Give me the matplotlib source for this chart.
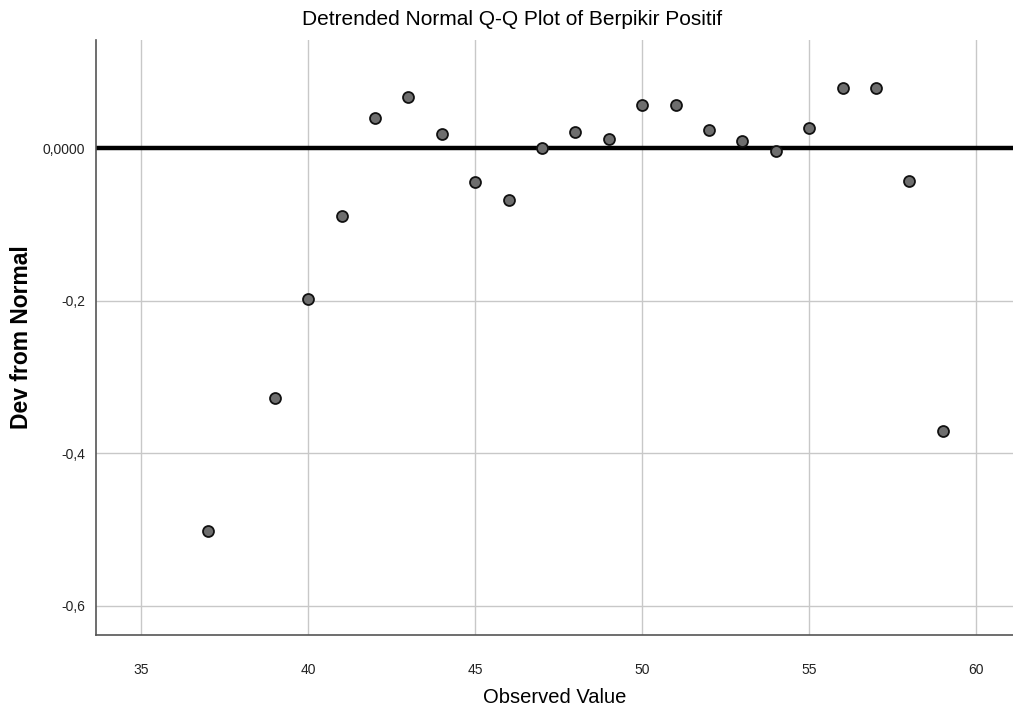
import matplotlib
matplotlib.use('Agg')
import matplotlib.pyplot as plt

# 観測値と正規分布からのずれ
observed = [37, 39, 40, 41, 42, 43, 44, 45, 46, 47, 48, 49, 50, 51, 52, 53, 54, 55, 56, 57, 58, 59]
deviation = [-0.502, -0.328, -0.198, -0.089, 0.039, 0.067, 0.018, -0.045, -0.068, 0.000, 0.021,
             0.012, 0.056, 0.056, 0.024, 0.009, -0.004, 0.026, 0.079, 0.079, -0.043, -0.371]

x_ticks = [35, 40, 45, 50, 55, 60]
y_ticks = [0.0, -0.2, -0.4, -0.6]
y_labels = ['0,0000', '-0,2', '-0,4', '-0,6']

plt.rcParams['font.family'] = ['Liberation Sans', 'DejaVu Sans']

fig = plt.figure(figsize=(10.13, 7.11), dpi=100)
ax = fig.add_axes([0.0948, 0.1069, 0.9052, 0.8368])

ax.set_xlim(33.65, 61.1)
ax.set_ylim(-0.638, 0.1415)
ax.set_xticks(x_ticks)
ax.set_xticklabels([str(t) for t in x_ticks], fontsize=10)
ax.set_yticks(y_ticks)
ax.set_yticklabels(y_labels, fontsize=10)
ax.grid(True, color='#c8c8c8', linewidth=1.0)
ax.set_axisbelow(True)
ax.tick_params(length=0, colors='#222222')
ax.tick_params(axis='x', pad=20)
ax.tick_params(axis='y', pad=8)

for s in ['top', 'right']:
    ax.spines[s].set_visible(False)
for s in ['left', 'bottom']:
    ax.spines[s].set_color('#555555')
    ax.spines[s].set_linewidth(1.2)

ax.axhline(0, color='black', linewidth=3.2, zorder=2)
ax.scatter(observed, deviation, s=62, color='#6e6e6e', edgecolors='#111111', linewidths=1.3, zorder=3)

fig.text(0.505, 0.972, 'Detrended Normal Q-Q Plot of Berpikir Positif', fontsize=15,
         ha='center', va='center')
ax.set_xlabel('Observed Value', fontsize=14.5, labelpad=8)
fig.text(0.021, 0.526, 'Dev from Normal', fontsize=16.5, fontweight='bold',
         rotation=90, ha='center', va='center')

fig.savefig('out.png', dpi=100)
